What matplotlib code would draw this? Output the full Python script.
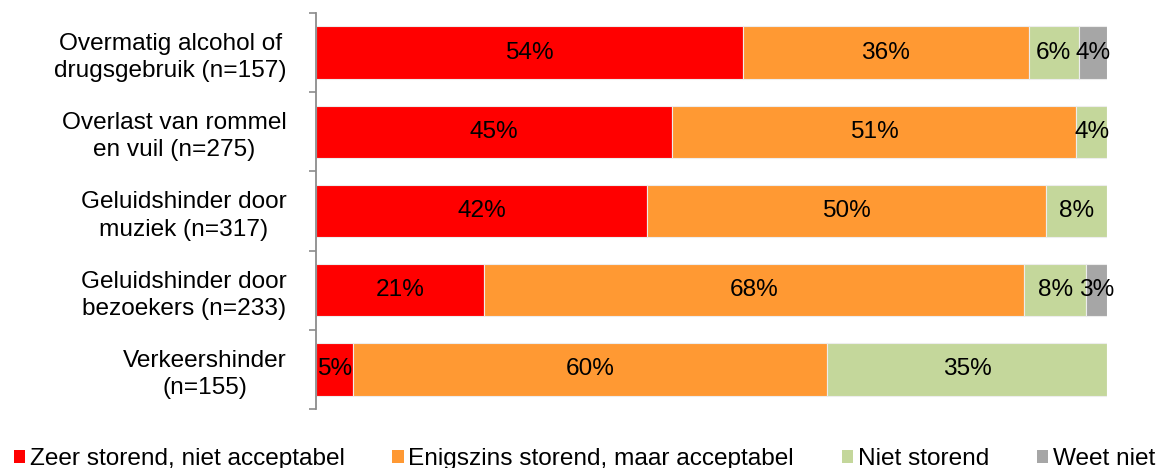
import matplotlib.pyplot as plt
from matplotlib.patches import Patch

plt.rcParams['font.family'] = ['Liberation Sans', 'DejaVu Sans']

# Categories, top to bottom
categories = ['Overmatig alcohol of\ndrugsgebruik (n=157)',
              'Overlast van rommel\nen vuil (n=275)',
              'Geluidshinder door\nmuziek (n=317)',
              'Geluidshinder door\nbezoekers (n=233)',
              'Verkeershinder\n(n=155)']

series_names = ['Zeer storend, niet acceptabel',
                'Enigszins storend, maar acceptabel',
                'Niet storend',
                'Weet niet']

# Percentages per series (same order as categories)
zeer_storend = [54.0, 45.0, 41.9, 21.2, 4.7]
enigszins_storend = [36.1, 51.1, 50.4, 68.3, 59.9]
niet_storend = [6.3, 3.9, 7.7, 7.9, 35.4]
weet_niet = [3.6, 0.0, 0.0, 2.6, 0.0]

series_values = [zeer_storend, enigszins_storend, niet_storend, weet_niet]
colors = ['#FF0000', '#FF9933', '#C4D79B', '#A6A6A6']
fs = 17.6

fig = plt.figure(figsize=(11.61, 4.68), dpi=100)
ax = fig.add_axes([316 / 1161, 1 - 409 / 468, (1107 - 316) / 1161, 396 / 468])

y = list(range(len(categories)))
left = [0.0] * len(categories)
for name, vals, col in zip(series_names, series_values, colors):
    bars = ax.barh(y, vals, left=left, height=0.66, color=col,
                   edgecolor='#EDEDED', linewidth=0.8, label=name)
    labels = [f'{v:.0f}%' if v > 0 else '' for v in vals]
    ax.bar_label(bars, labels=labels, label_type='center', fontsize=fs,
                 color='black')
    left = [l + v for l, v in zip(left, vals)]

ax.set_xlim(0, 100)
ax.set_ylim(len(categories) - 0.5, -0.5)

ax.set_yticks(y)
ax.set_yticklabels(categories, fontsize=fs, ha='right',
                   multialignment='center', linespacing=1.3)
ax.set_yticks([i - 0.5 for i in range(len(categories) + 1)], minor=True)
ax.tick_params(axis='y', which='major', length=0, pad=21)
ax.tick_params(axis='y', which='minor', length=5, width=1.2,
               color='#8C8C8C', direction='out')

ax.xaxis.set_visible(False)
for side in ['top', 'right', 'bottom']:
    ax.spines[side].set_visible(False)
ax.spines['left'].set_color('#8C8C8C')
ax.spines['left'].set_linewidth(1.3)

handles = [Patch(facecolor=c, edgecolor='none') for c in colors]
fig.legend(handles, series_names, loc='center', ncol=4,
           bbox_to_anchor=(0.5034, 1 - 459 / 468), frameon=False,
           fontsize=fs, handlelength=0.46, handleheight=0.46,
           handletextpad=0.2, columnspacing=1.95,
           borderpad=0, borderaxespad=0)

fig.savefig('out.png', dpi=100)
